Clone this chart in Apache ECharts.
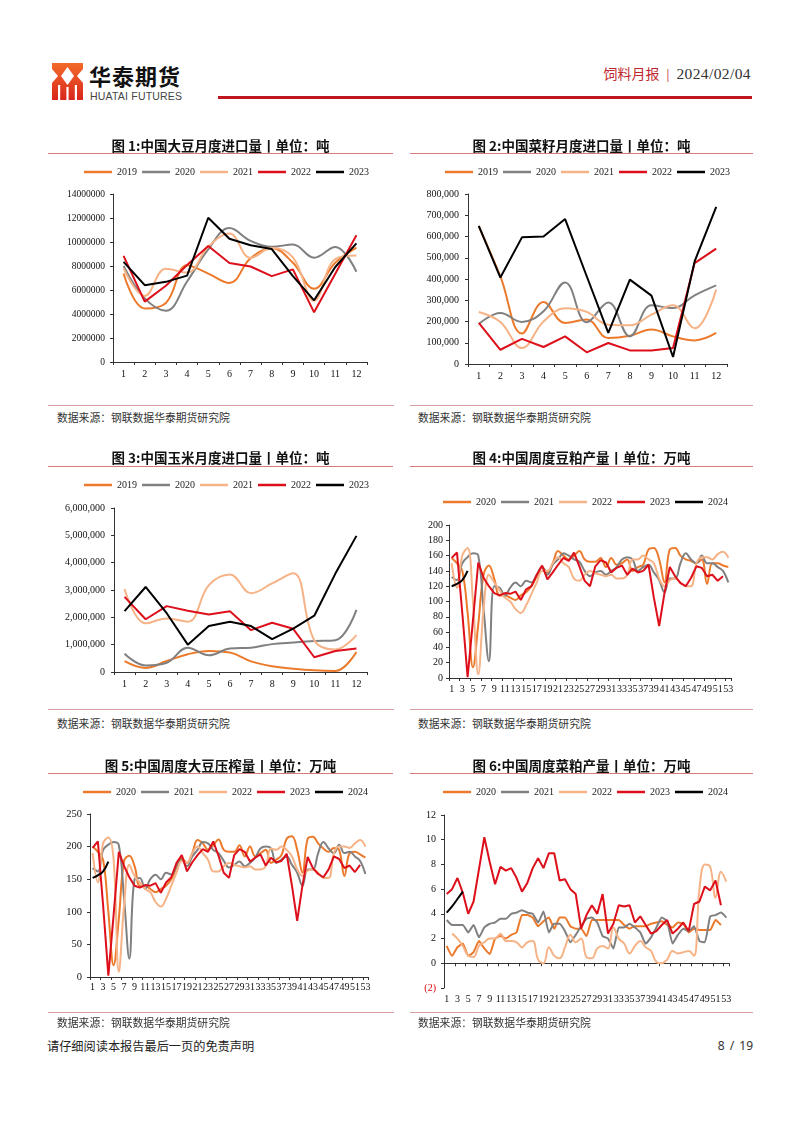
<!DOCTYPE html>
<html lang="zh-CN"><head><meta charset="utf-8"><title>饲料月报</title>
<script src="https://cdn.jsdelivr.net/npm/echarts@6/dist/echarts.min.js"></script>
<style>
html,body{margin:0;padding:0;background:#fff}
body{width:802px;height:1132px;position:relative;overflow:hidden;font-family:"Noto Sans CJK SC","Noto Sans",sans-serif}
.a{position:absolute;white-space:nowrap}
.title{position:absolute;height:20px;line-height:20px;text-align:center;font-weight:bold;font-size:13.5px;color:#111;white-space:nowrap}
.uline{position:absolute;height:1px;background:#d47c7c}
.bline{position:absolute;height:1px;background:#d9a0a4}
.src{position:absolute;font-size:10.8px;color:#333;line-height:14px;white-space:nowrap}
.chart{position:absolute;width:365px;height:270px}
</style></head><body>

<!-- header -->
<svg class="a" style="left:52px;top:63px" width="31" height="37" viewBox="0 0 31 37">
<defs><linearGradient id="lg" x1="0" y1="0" x2="0" y2="1"><stop offset="0" stop-color="#F26B2A"/><stop offset="1" stop-color="#D9261C"/></linearGradient></defs>
<rect width="31" height="37" fill="url(#lg)"/>
<polygon points="15.5,4 22,13 15.5,22 9,13" fill="#fff"/>
<polygon points="0,6 6,13 0,20" fill="#fff"/>
<polygon points="31,6 25,13 31,20" fill="#fff"/>
<rect x="6" y="22" width="2.2" height="15" fill="#fff"/>
<rect x="14.4" y="24" width="2.2" height="13" fill="#fff"/>
<rect x="22.8" y="22" width="2.2" height="15" fill="#fff"/>
</svg>
<div class="a" style="left:89px;top:63px;font-size:22px;line-height:24px;font-weight:bold;color:#111;letter-spacing:1px">华泰期货</div>
<div class="a" style="left:90px;top:90px;font-size:10.5px;line-height:12px;color:#444;font-family:'Liberation Sans',Arial,sans-serif;letter-spacing:0.2px">HUATAI FUTURES</div>
<div class="a" style="right:51px;top:62px;line-height:20px"><span style="color:#C0272D;font-size:14px">饲料月报</span><span style="color:#C0272D;font-size:14px;font-family:'Liberation Serif'">&nbsp;&nbsp;|&nbsp;&nbsp;</span><span style="color:#333;font-size:15.5px;font-family:'Liberation Serif',serif;letter-spacing:0.4px">2024/02/04</span></div>
<div class="a" style="left:218px;top:96px;width:534px;height:2.5px;background:#C0161E"></div>

<!-- chart cells -->
<div id="c1" class="chart" style="left:40px;top:130px"></div>
<div id="c2" class="chart" style="left:405px;top:130px"></div>
<div id="c3" class="chart" style="left:40px;top:440px"></div>
<div id="c4" class="chart" style="left:405px;top:440px"></div>
<div id="c5" class="chart" style="left:40px;top:750px"></div>
<div id="c6" class="chart" style="left:405px;top:750px"></div>

<div class="title" style="left:48px;top:135px;width:345px">图 1:中国大豆月度进口量丨单位：吨</div>
<div class="title" style="left:410px;top:135px;width:343px">图 2:中国菜籽月度进口量丨单位：吨</div>
<div class="title" style="left:48px;top:447px;width:345px">图 3:中国玉米月度进口量丨单位：吨</div>
<div class="title" style="left:410px;top:447px;width:343px">图 4:中国周度豆粕产量丨单位：万吨</div>
<div class="title" style="left:48px;top:755px;width:345px">图 5:中国周度大豆压榨量丨单位：万吨</div>
<div class="title" style="left:410px;top:755px;width:343px">图 6:中国周度菜粕产量丨单位：万吨</div>

<div class="uline" style="left:48px;top:153px;width:345px"></div>
<div class="uline" style="left:410px;top:153px;width:343px"></div>
<div class="uline" style="left:48px;top:466px;width:345px"></div>
<div class="uline" style="left:410px;top:466px;width:343px"></div>
<div class="uline" style="left:48px;top:773px;width:345px"></div>
<div class="uline" style="left:410px;top:773px;width:343px"></div>

<div class="bline" style="left:48px;top:405px;width:346px"></div>
<div class="bline" style="left:410px;top:405px;width:343px"></div>
<div class="bline" style="left:48px;top:709px;width:346px"></div>
<div class="bline" style="left:410px;top:709px;width:343px"></div>
<div class="bline" style="left:48px;top:1012px;width:346px"></div>
<div class="bline" style="left:410px;top:1012px;width:343px"></div>

<div class="src" style="left:57px;top:410px">数据来源：钢联数据华泰期货研究院</div>
<div class="src" style="left:418px;top:410px">数据来源：钢联数据华泰期货研究院</div>
<div class="src" style="left:57px;top:716px">数据来源：钢联数据华泰期货研究院</div>
<div class="src" style="left:418px;top:716px">数据来源：钢联数据华泰期货研究院</div>
<div class="src" style="left:57px;top:1015px">数据来源：钢联数据华泰期货研究院</div>
<div class="src" style="left:418px;top:1015px">数据来源：钢联数据华泰期货研究院</div>

<div class="a" style="left:47px;top:1038px;font-size:12.2px;line-height:16px;color:#222">请仔细阅读本报告最后一页的免责声明</div>
<div class="a" style="right:49px;top:1038px;font-size:12px;line-height:16px;color:#333;font-family:'Noto Sans',sans-serif;word-spacing:2px">8 / 19</div>

<script>
// ---------- categories ----------
const months = ['1','2','3','4','5','6','7','8','9','10','11','12'];
const weeks = ['1','2','3','4','5','6','7','8','9','10','11','12','13','14','15','16','17','18','19','20','21','22','23','24','25','26','27','28','29','30','31','32','33','34','35','36','37','38','39','40','41','42','43','44','45','46','47','48','49','50','51','52','53'];
const yearsA = ['2019','2020','2021','2022','2023'];
const yearsB = ['2020','2021','2022','2023','2024'];

// ---------- 图1 大豆月度进口量 (吨) ----------
const soy2019 = [7380000,4460000,4920000,8070000,7370000,6590000,8640000,9470000,8270000,6100000,8270000,9540000];
const soy2020 = [8000000,5300000,4280000,6710000,9380000,11160000,10090000,9600000,9790000,8690000,9590000,7520000];
const soy2021 = [7800000,5500000,7770000,7450000,9610000,10700000,8670000,9490000,8720000,5110000,8570000,8870000];
const soy2022 = [8850000,5030000,6350000,8080000,9670000,8250000,7960000,7160000,7720000,4140000,7350000,10560000];
const soy2023 = [8350000,6400000,6680000,7200000,12020000,10270000,9730000,9410000,7150000,5140000,7920000,9890000];

// ---------- 图2 菜籽月度进口量 (吨) ----------
const rs2019 = [648000,412000,143000,292000,193000,209000,122000,133000,162000,130000,111000,146000];
const rs2020 = [188000,240000,198000,248000,384000,196000,290000,130000,276000,263000,323000,370000];
const rs2021 = [245000,198000,75000,200000,262000,245000,185000,182000,232000,276000,168000,350000];
const rs2022 = [193000,67000,118000,80000,130000,55000,99000,64000,64000,75000,475000,543000];
const rs2023 = [650000,407000,596000,600000,682000,413000,146000,397000,322000,33000,483000,739000];

// ---------- 图3 玉米月度进口量 (吨) ----------
const corn2019 = [400000,150000,400000,650000,770000,710000,390000,210000,120000,60000,40000,730000];
const corn2020 = [670000,240000,340000,890000,610000,860000,890000,1020000,1080000,1130000,1160000,2270000];
const corn2021 = [3040000,1780000,1960000,1840000,3180000,3570000,2880000,3240000,3610000,1160000,820000,1350000];
const corn2022 = [2750000,1930000,2410000,2240000,2100000,2220000,1530000,1800000,1580000,540000,770000,860000];
const corn2023 = [2230000,3110000,2150000,1000000,1680000,1840000,1680000,1200000,1590000,2060000,3600000,4980000];

// ---------- 图4 周度豆粕产量 (万吨) ----------
const meal2020 = [157,150,140,85,14,70,135,147,130,108,108,105,102,108,112,120,133,145,138,150,166,160,155,160,166,155,152,152,157,145,157,148,150,155,140,145,148,168,170,155,125,168,170,160,155,153,150,155,123,150,150,147,145];
const meal2021 = [132,128,150,158,163,160,90,22,120,118,108,118,125,120,127,125,135,145,135,148,155,163,160,155,152,140,133,138,140,135,140,145,155,158,155,140,145,148,138,128,112,130,130,150,163,155,150,160,150,150,145,140,125];
const meal2022 = [150,118,160,170,100,5,90,135,125,115,105,100,90,85,95,110,125,140,140,150,158,150,145,130,127,135,140,137,135,133,135,130,130,135,155,155,160,155,150,130,120,128,130,125,120,120,150,158,158,155,162,165,157];
const meal2023 = [157,164,85,1,75,151,131,120,111,108,111,110,113,102,116,120,135,147,129,138,148,157,153,164,146,127,120,146,154,151,138,144,147,135,143,138,140,148,105,68,111,145,133,124,120,131,146,144,133,135,127,133];
const meal2024 = [120,123,128,140];

// ---------- 图5 周度大豆压榨量 (万吨) ----------
const crush2020 = [200,192,180,100,18,90,178,186,170,140,140,135,130,135,140,150,168,182,175,190,210,205,195,202,211,195,192,192,202,185,200,185,190,195,175,180,187,212,216,195,160,212,215,205,197,192,198,195,155,190,192,188,183];
const crush2021 = [167,162,195,203,207,202,120,28,150,152,135,150,157,150,160,157,170,180,170,185,195,207,205,195,190,178,168,172,177,170,175,183,197,200,197,175,180,185,172,160,140,165,165,190,207,197,190,203,190,192,185,178,158];
const crush2022 = [190,145,205,214,180,8,110,172,155,145,135,130,115,108,120,140,160,178,175,190,200,190,180,162,162,170,175,172,170,168,170,165,165,170,197,195,200,195,185,165,155,163,165,160,152,152,190,200,200,198,205,210,200];
const crush2023 = [198,208,110,2,95,192,170,153,140,137,141,140,144,129,145,153,175,187,162,176,187,196,192,208,186,160,152,187,196,192,177,183,188,171,183,176,178,189,140,86,140,184,167,158,153,165,185,181,167,171,161,172];
const crush2024 = [152,156,162,177];

// ---------- 图6 周度菜粕产量 (万吨) ----------
const rm2020 = [1.4,0.6,1.3,1.6,0.6,0.9,1.8,1.2,0.75,2.0,2.2,2.0,2.3,2.5,3.9,3.9,3.7,3.0,3.4,3.7,2.8,3.7,3.7,3.0,2.8,2.8,2.2,3.5,3.5,3.5,3.5,3.5,3.5,3.1,2.8,3.0,3.0,3.0,3.2,3.3,3.4,3.1,2.9,3.3,3.2,2.5,2.8,2.7,2.7,2.7,3.5,3.1];
const rm2021 = [3.5,3.1,3.1,3.1,2.5,3.1,2.1,2.9,3.2,3.3,3.6,3.6,4.0,4.1,4.3,4.1,4.0,3.3,4.2,2.5,3.2,3.2,2.6,1.7,2.3,3.0,3.6,3.7,3.3,2.2,2.0,1.2,2.9,2.9,3.2,2.9,2.5,1.6,2.1,2.9,3.7,3.4,1.6,2.3,2.8,2.6,3.0,1.8,1.7,3.8,3.9,4.1,3.7];
const rm2022 = [null,2.4,2.0,1.4,0.6,0.5,1.4,1.7,2.0,2.0,2.4,1.8,1.8,1.7,1.3,1.7,1.8,0.3,0.0,1.3,0.6,0.4,1.3,2.3,1.7,2.0,0.5,0.4,1.2,1.4,1.2,2.9,2.0,1.6,0.8,1.4,1.8,1.3,1.0,0.1,0.0,0.3,1.0,0.8,0.9,1.0,0.6,6.0,8.0,7.8,5.3,7.4,6.6];
const rm2023 = [5.6,6.0,6.9,5.7,4.0,5.0,7.6,10.2,8.2,6.4,7.8,7.5,7.7,6.9,5.8,6.5,7.7,8.5,7.7,8.9,8.9,6.7,6.8,6.0,5.6,2.8,3.9,4.7,4.0,5.6,2.4,3.2,4.7,4.6,4.7,3.3,3.8,3.1,2.4,2.6,3.1,3.5,2.4,2.8,3.3,2.6,4.8,5.0,6.2,5.9,6.7,4.7];
const rm2024 = [4.1,4.6,5.2,5.8];

// ---------- styling ----------
const ORANGE = '#EC7A2C', GREY = '#808080', LIGHT = '#F5B387', RED = '#DD0F1B', BLACK = '#000000';
const SERIF = 'Liberation Serif';
const AX = '#333';

function build(id, cfg) {
  const chart = echarts.init(document.getElementById(id), null, {renderer: 'canvas'});
  chart.setOption({
    animation: false,
    legend: {
      left: cfg.legendLeft, top: cfg.legendTop, icon: 'rect', itemWidth: 28, itemHeight: 2.5,
      itemGap: 5, padding: 0, selectedMode: false,
      textStyle: {fontFamily: SERIF, fontSize: 10, color: '#222'},
      data: cfg.names
    },
    grid: Object.assign({containLabel: false}, cfg.grid),
    xAxis: {
      type: 'category', data: cfg.cats, boundaryGap: true,
      axisLine: {onZero: true, lineStyle: {color: AX, width: 1}},
      axisTick: {show: true, length: 3, lineStyle: {color: AX}},
      axisLabel: {interval: cfg.labelInterval, fontFamily: SERIF, fontSize: cfg.xFont, color: '#111', margin: cfg.xMargin, hideOverlap: false},
      splitLine: {show: false}
    },
    yAxis: {
      type: 'value', min: cfg.min, max: cfg.max, interval: cfg.interval,
      axisLine: {show: true, lineStyle: {color: AX, width: 1}},
      axisTick: {show: true, length: 3, lineStyle: {color: AX}},
      axisLabel: {fontFamily: SERIF, fontSize: cfg.yFont, color: '#111', margin: cfg.yMargin, formatter: cfg.yFmt, rich: cfg.rich || {}},
      splitLine: {show: false}
    },
    series: cfg.series.map(s => ({
      name: s.name, type: 'line', data: s.data, symbol: 'none', showSymbol: false,
      smooth: s.smooth, connectNulls: false,
      lineStyle: {color: s.color, width: 2}, itemStyle: {color: s.color},
      emphasis: {disabled: true}, silent: true
    }))
  });
}

const plain = v => String(v);
const comma = v => Number(v).toLocaleString('en-US');
const SM = 0.4;

build('c1', {
  legendLeft: 44, legendTop: 37, names: yearsA,
  grid: {left: 73, top: 64, width: 254, height: 168},
  cats: months, labelInterval: 0, xFont: 10, xMargin: 7,
  min: 0, max: 14000000, interval: 2000000, yFont: 9.5, yMargin: 8, yFmt: plain,
  series: [
    {name: '2019', data: soy2019, color: ORANGE, smooth: SM},
    {name: '2020', data: soy2020, color: GREY, smooth: SM},
    {name: '2021', data: soy2021, color: LIGHT, smooth: SM},
    {name: '2022', data: soy2022, color: RED, smooth: false},
    {name: '2023', data: soy2023, color: BLACK, smooth: false}
  ]
});

build('c2', {
  legendLeft: 40, legendTop: 37, names: yearsA,
  grid: {left: 63, top: 64, width: 259, height: 170},
  cats: months, labelInterval: 0, xFont: 10, xMargin: 7,
  min: 0, max: 800000, interval: 100000, yFont: 10, yMargin: 9, yFmt: comma,
  series: [
    {name: '2019', data: rs2019, color: ORANGE, smooth: SM},
    {name: '2020', data: rs2020, color: GREY, smooth: SM},
    {name: '2021', data: rs2021, color: LIGHT, smooth: SM},
    {name: '2022', data: rs2022, color: RED, smooth: false},
    {name: '2023', data: rs2023, color: BLACK, smooth: false}
  ]
});

build('c3', {
  legendLeft: 44, legendTop: 40, names: yearsA,
  grid: {left: 74, top: 68, width: 253, height: 164},
  cats: months, labelInterval: 0, xFont: 10, xMargin: 7,
  min: 0, max: 6000000, interval: 1000000, yFont: 10, yMargin: 9, yFmt: comma,
  series: [
    {name: '2019', data: corn2019, color: ORANGE, smooth: SM},
    {name: '2020', data: corn2020, color: GREY, smooth: SM},
    {name: '2021', data: corn2021, color: LIGHT, smooth: SM},
    {name: '2022', data: corn2022, color: RED, smooth: false},
    {name: '2023', data: corn2023, color: BLACK, smooth: false}
  ]
});

build('c4', {
  legendLeft: 38, legendTop: 57, names: yearsB,
  grid: {left: 44, top: 85, width: 282, height: 153},
  cats: weeks, labelInterval: 1, xFont: 10, xMargin: 6,
  min: 0, max: 200, interval: 20, yFont: 10, yMargin: 6, yFmt: plain,
  series: [
    {name: '2020', data: meal2020, color: ORANGE, smooth: SM},
    {name: '2021', data: meal2021, color: GREY, smooth: SM},
    {name: '2022', data: meal2022, color: LIGHT, smooth: SM},
    {name: '2023', data: meal2023, color: RED, smooth: false},
    {name: '2024', data: meal2024, color: BLACK, smooth: SM}
  ]
});

build('c5', {
  legendLeft: 43, legendTop: 37, names: yearsB,
  grid: {left: 50, top: 64, width: 278, height: 163},
  cats: weeks, labelInterval: 1, xFont: 10, xMargin: 5,
  min: 0, max: 250, interval: 50, yFont: 10.5, yMargin: 8, yFmt: plain,
  series: [
    {name: '2020', data: crush2020, color: ORANGE, smooth: SM},
    {name: '2021', data: crush2021, color: GREY, smooth: SM},
    {name: '2022', data: crush2022, color: LIGHT, smooth: SM},
    {name: '2023', data: crush2023, color: RED, smooth: false},
    {name: '2024', data: crush2024, color: BLACK, smooth: SM}
  ]
});

build('c6', {
  legendLeft: 38, legendTop: 37, names: yearsB,
  grid: {left: 39, top: 65, width: 285, height: 173},
  cats: weeks, labelInterval: 1, xFont: 10, xMargin: 6,
  min: -2, max: 12, interval: 2, yFont: 10, yMargin: 8,
  yFmt: v => v < 0 ? '{n|(' + (-v) + ')}' : String(v),
  rich: {n: {color: '#E00000', fontFamily: SERIF, fontSize: 10}},
  series: [
    {name: '2020', data: rm2020, color: ORANGE, smooth: 0.15},
    {name: '2021', data: rm2021, color: GREY, smooth: 0.15},
    {name: '2022', data: rm2022, color: LIGHT, smooth: SM},
    {name: '2023', data: rm2023, color: RED, smooth: false},
    {name: '2024', data: rm2024, color: BLACK, smooth: SM}
  ]
});
</script>
</body></html>
